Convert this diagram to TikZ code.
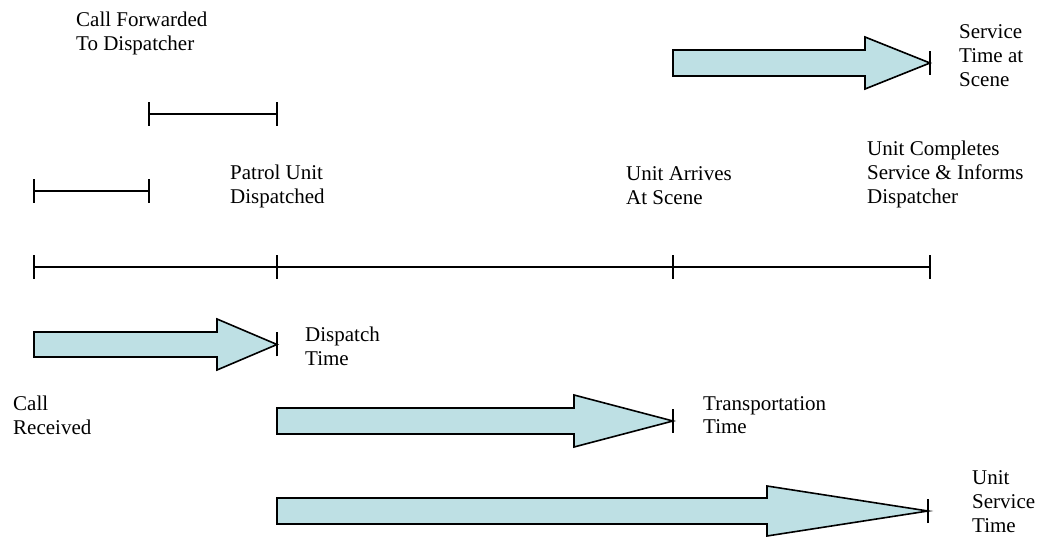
\documentclass[tikz,border=0pt]{standalone}
\usepackage{fontspec}
\setmainfont{Liberation Serif}
\definecolor{arrowfill}{RGB}{190,224,228}
\tikzset{
  lbl/.style={anchor=base west, inner sep=0pt, align=left, font=\fontsize{21}{24}\selectfont},
  bar/.style={draw=black, line width=1.8pt},
  tickmark/.style={draw=black, line width=1.6pt},
  bigarrow/.style={draw=black, line width=1.6pt, fill=arrowfill, line join=miter},
}
\begin{document}
\begin{tikzpicture}[x=1pt, y=-1pt]
\useasboundingbox (0,0) rectangle (1037,537);
% main timeline
\coordinate (t0) at (34,267);
\coordinate (t1) at (277,267);
\coordinate (t2) at (673,267);
\coordinate (t3) at (930,267);
\draw[bar] (t0) -- (t3);
\foreach \p in {t0,t1,t2,t3} \draw[tickmark] ([yshift=-12pt]\p) -- ([yshift=12pt]\p);
% short segments
\coordinate (a0) at (34,191);
\coordinate (a1) at (149,191);
\coordinate (b0) at (149,114);
\coordinate (b1) at (277,114);
\draw[bar] (a0) -- (a1);
\draw[bar] (b0) -- (b1);
\foreach \p in {a0,a1,b0,b1} \draw[tickmark] ([yshift=-12pt]\p) -- ([yshift=12pt]\p);
% big arrows
\draw[bigarrow] (34,332) -- (217,332) -- (217,319) -- (277,344.5) -- (217,370) -- (217,357) -- (34,357) -- cycle;
\coordinate (d1) at (277,344.5);
\draw[bigarrow] (277,408) -- (574,408) -- (574,395) -- (673,421) -- (574,447) -- (574,434) -- (277,434) -- cycle;
\coordinate (d2) at (673,421);
\draw[bigarrow] (277,498) -- (767,498) -- (767,486) -- (928,511) -- (767,536) -- (767,524) -- (277,524) -- cycle;
\coordinate (d3) at (928,511);
\draw[bigarrow] (673,50) -- (865,50) -- (865,37) -- (930,63) -- (865,89) -- (865,76) -- (673,76) -- cycle;
\coordinate (d4) at (930,63);
\foreach \p in {d1,d2,d3,d4} \draw[tickmark] ([yshift=-12pt]\p) -- ([yshift=12pt]\p);
% labels (anchor = baseline of last line)
\node[lbl] (lfwd) at (76,51) {Call Forwarded\\To Dispatcher};
\node[lbl] (lpatrol) at (230,204) {Patrol Unit\\Dispatched};
\node[lbl] (larrive) at (626,205) {Unit Arrives\\At Scene};
\node[lbl] (lcomplete) at (867,204) {Unit Completes\\Service \& Informs\\Dispatcher};
\node[lbl] (lscene) at (959,87) {Service\\Time at\\Scene};
\node[lbl] (ldispatch) at (305,366) {Dispatch\\Time};
\node[lbl] (lcall) at (13,435) {Call\\Received};
\node[lbl] (ltransp) at (703,434) {Transportation\\Time};
\node[lbl] (lunit) at (972,532) {Unit\\Service\\Time};
\end{tikzpicture}
\end{document}
